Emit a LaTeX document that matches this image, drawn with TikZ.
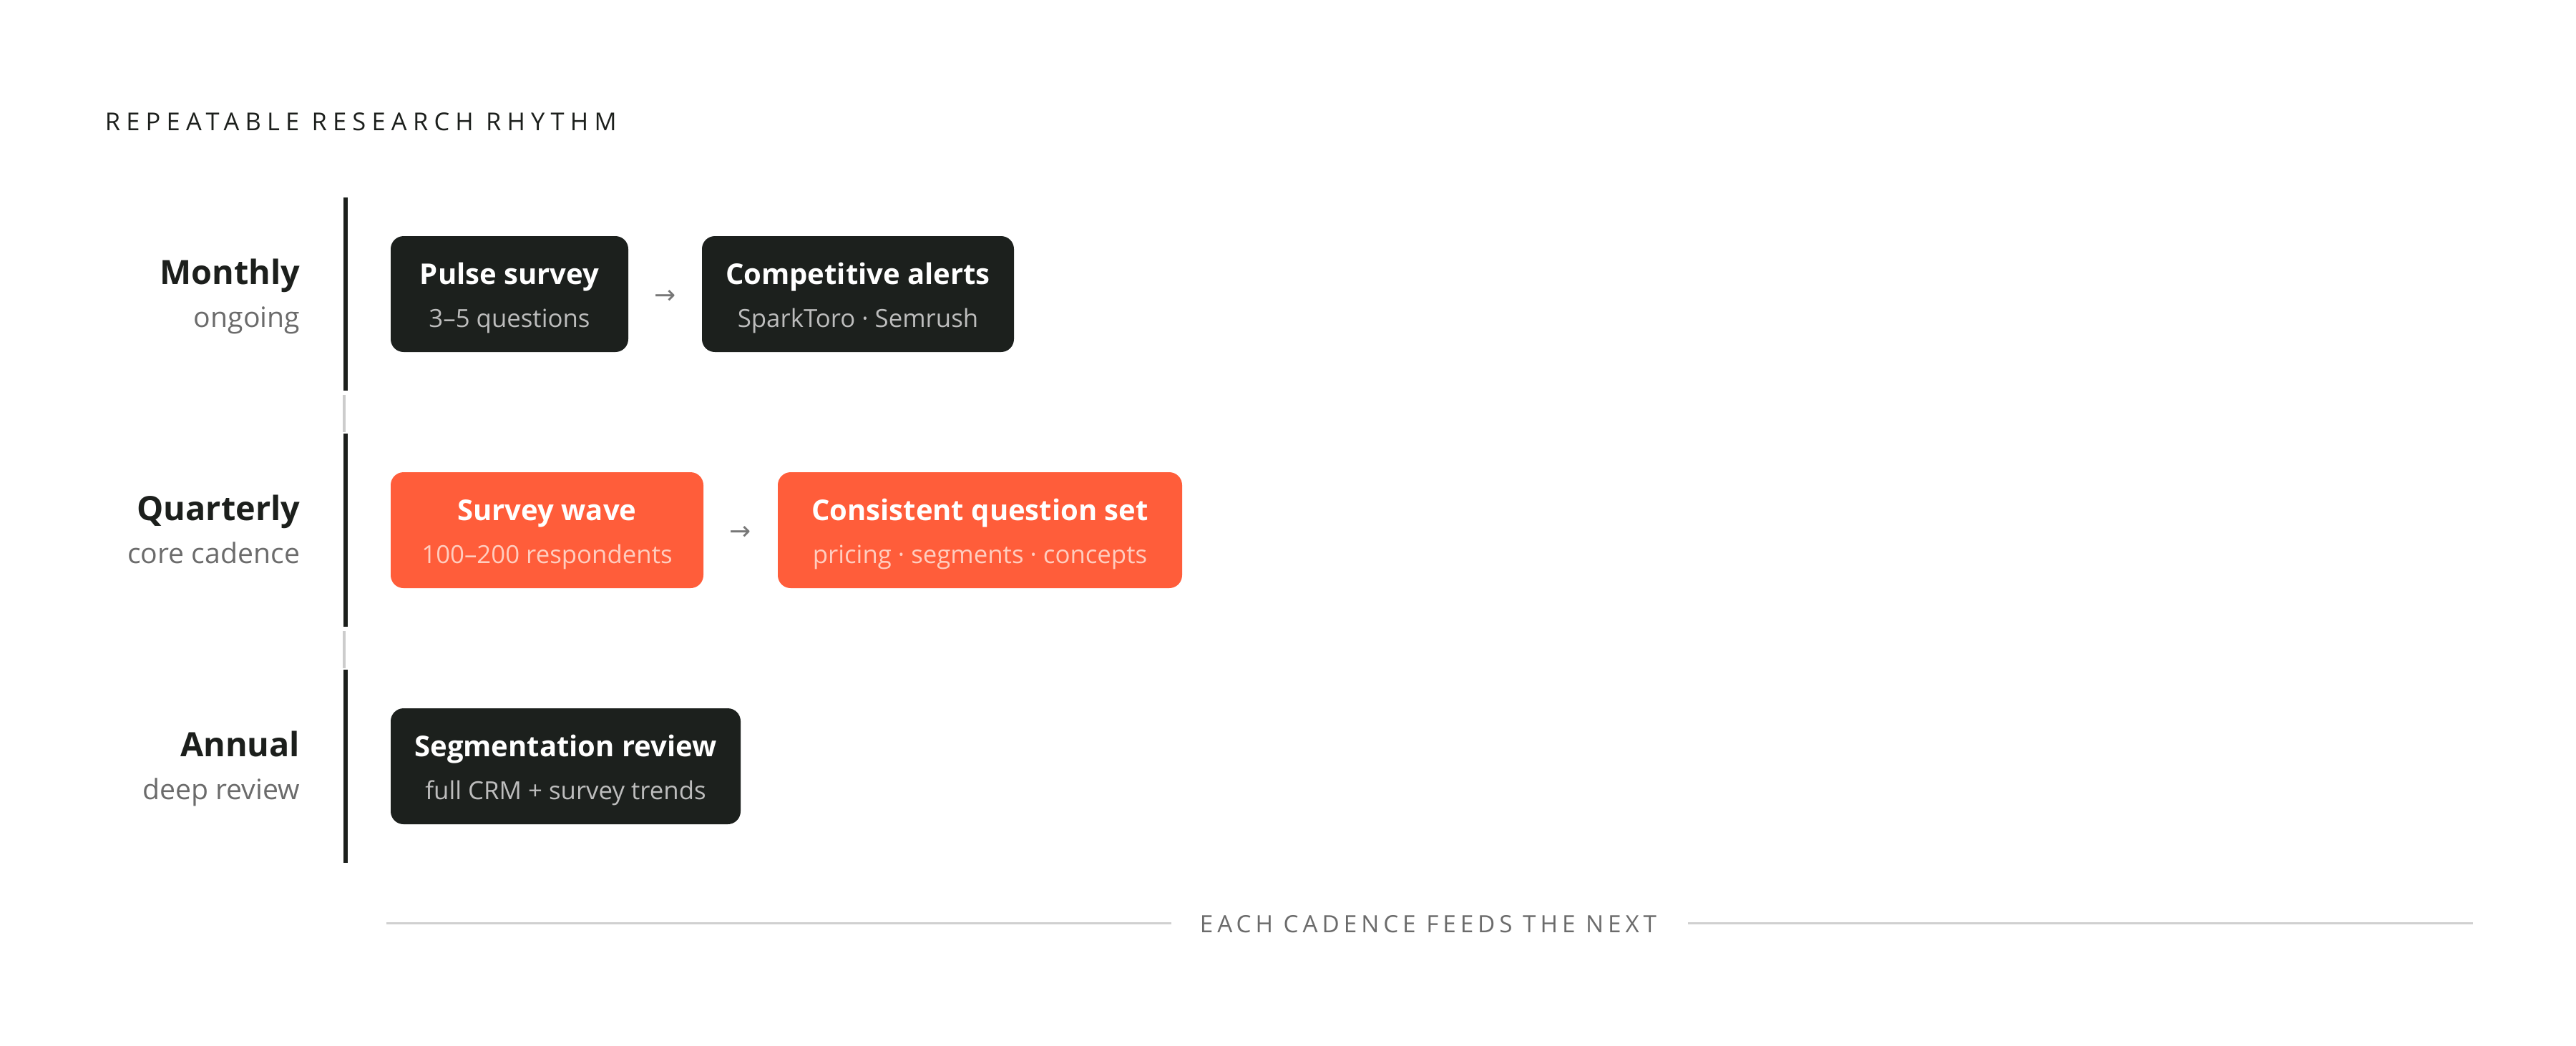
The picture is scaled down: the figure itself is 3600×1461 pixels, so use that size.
\documentclass[tikz,border=0pt]{standalone}
\usepackage{fontspec}
\setmainfont{Open Sans}
\newfontfamily\arrowfont{DejaVu Sans}
\newfontfamily\trackfont[LetterSpace=18]{Open Sans}
\newfontfamily\headfont[LetterSpace=24]{Open Sans}
\usetikzlibrary{calc,fit}
\definecolor{ink}{HTML}{1C1F1C}
\definecolor{boxdark}{HTML}{1C201D}
\definecolor{boxorange}{HTML}{FF5D3A}
\definecolor{subgray}{HTML}{6B6B6B}
\definecolor{subdark}{HTML}{BDBDBD}
\definecolor{suborange}{HTML}{FFCDBF}
\definecolor{linkgray}{HTML}{CCCCCC}
\definecolor{footline}{HTML}{D0D0D0}
\definecolor{arrowgray}{HTML}{777777}
\begin{document}
\begin{tikzpicture}[x=0.25pt,y=-0.25pt,
  cardbox/.style={rounded corners=4.5pt, inner sep=0pt, draw=none},
  darkcard/.style={cardbox, fill=boxdark},
  orangecard/.style={cardbox, fill=boxorange},
  cardtitle/.style={anchor=base, inner sep=0pt, text=white, font=\fontsize{10pt}{12pt}\selectfont\bfseries},
  cardsub/.style={anchor=base, inner sep=0pt, font=\fontsize{8.7pt}{10pt}\selectfont},
  rowtitle/.style={anchor=base east, inner sep=0pt, text=ink, font=\fontsize{11.7pt}{14pt}\selectfont\bfseries},
  rowsub/.style={anchor=base east, inner sep=0pt, text=subgray, font=\fontsize{9.8pt}{11pt}\selectfont},
  flowarrow/.style={inner sep=0pt, text=arrowgray, font=\arrowfont\fontsize{9pt}{10pt}\selectfont},
  rail/.style={draw=ink, line width=1.5pt},
  link/.style={draw=linkgray, line width=1pt},
  footrule/.style={draw=footline, line width=0.75pt}
]
\useasboundingbox[fill=white] (0,0) rectangle (3600,1461);

% heading
\node[anchor=base west, inner sep=0pt, text=ink, font=\headfont\fontsize{8.6pt}{10pt}\selectfont] (head) at (146,182) {REPEATABLE RESEARCH RHYTHM};

% rails
\coordinate (r1a) at (483,276); \coordinate (r1b) at (483,546);
\coordinate (g1a) at (481,552); \coordinate (g1b) at (481,604);
\coordinate (r2a) at (483,606); \coordinate (r2b) at (483,876);
\coordinate (g2a) at (481,882); \coordinate (g2b) at (481,934);
\coordinate (r3a) at (483,936); \coordinate (r3b) at (483,1206);
\draw[rail] (r1a) -- (r1b);
\draw[link] (g1a) -- (g1b);
\draw[rail] (r2a) -- (r2b);
\draw[link] (g2a) -- (g2b);
\draw[rail] (r3a) -- (r3b);

% row labels
\node[rowtitle] (lm) at (420,397) {Monthly};
\node[rowsub] (lms) at (420,457) {ongoing};
\node[rowtitle] (lq) at (420,727) {Quarterly};
\node[rowsub] (lqs) at (420,787) {core cadence};
\node[rowtitle] (la) at (420,1057) {Annual};
\node[rowsub] (las) at (420,1117) {deep review};

% cards row 1
\node[darkcard, fit={(546,330) (878,492)}] (pulse) {};
\node[cardtitle] (pulset) at ($(pulse.center)+(0,-14)$) {Pulse survey};
\node[cardsub, text=subdark] (pulses) at ($(pulse.center)+(0,46)$) {3–5 questions};
\node[darkcard, fit={(981,330) (1417,492)}] (comp) {};
\node[cardtitle] (compt) at ($(comp.center)+(0,-14)$) {Competitive alerts};
\node[cardsub, text=subdark] (comps) at ($(comp.center)+(0,46)$) {SparkToro · Semrush};
\node[flowarrow] (a1) at ($(pulse.east)!0.5!(comp.west)+(0,4)$) {→};

% cards row 2
\node[orangecard, fit={(546,660) (983,822)}] (wave) {};
\node[cardtitle] (wavet) at ($(wave.center)+(0,-14)$) {Survey wave};
\node[cardsub, text=suborange] (waves) at ($(wave.center)+(0,46)$) {100–200 respondents};
\node[orangecard, fit={(1087,660) (1652,822)}] (qset) {};
\node[cardtitle] (qsett) at ($(qset.center)+(0,-14)$) {Consistent question set};
\node[cardsub, text=suborange] (qsets) at ($(qset.center)+(0,46)$) {pricing · segments · concepts};
\node[flowarrow] (a2) at ($(wave.east)!0.5!(qset.west)+(0,4)$) {→};

% cards row 3
\node[darkcard, fit={(546,990) (1035,1152)}] (seg) {};
\node[cardtitle] (segt) at ($(seg.center)+(0,-14)$) {Segmentation review};
\node[cardsub, text=subdark] (segs) at ($(seg.center)+(0,46)$) {full CRM + survey trends};

% footer
\node[anchor=base, inner sep=0pt, text=subgray, font=\trackfont\fontsize{8.3pt}{10pt}\selectfont] (foot) at (1996,1303) {EACH CADENCE FEEDS THE NEXT};
\coordinate (f1a) at (540,1290); \coordinate (f1b) at (1637,1290);
\coordinate (f2a) at (2359,1290); \coordinate (f2b) at (3456,1290);
\draw[footrule] (f1a) -- (f1b);
\draw[footrule] (f2a) -- (f2b);
\end{tikzpicture}
\end{document}
